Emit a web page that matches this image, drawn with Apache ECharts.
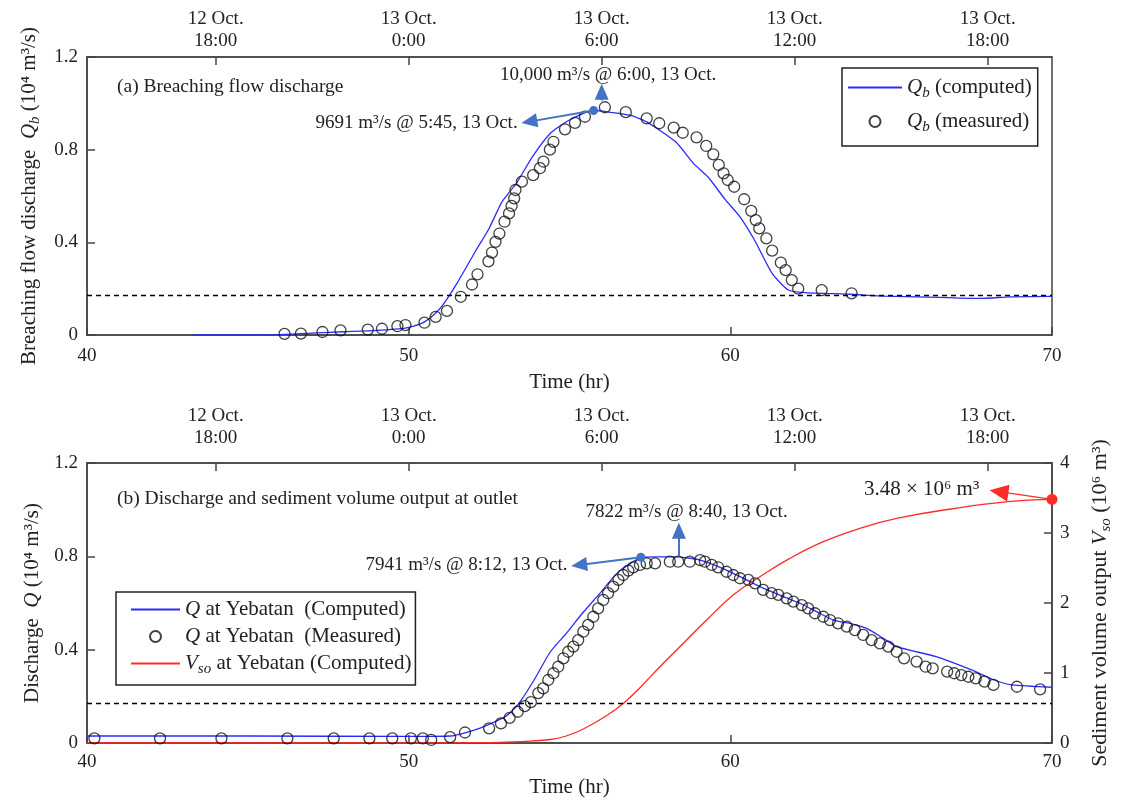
<!DOCTYPE html>
<html>
<head>
<meta charset="utf-8">
<script src="https://cdn.jsdelivr.net/npm/echarts@6/dist/echarts.min.js"></script>
<style>
html,body{margin:0;padding:0;background:#fff;}
#chart{width:1126px;height:805px;}
</style>
</head>
<body>
<div id="chart"></div>
<script>
// ---------- DATA ----------
const topAxisTicks = [44, 50, 56, 62, 68];
const topAxisLabels = ['12 Oct.\n18:00', '13 Oct.\n0:00', '13 Oct.\n6:00', '13 Oct.\n12:00', '13 Oct.\n18:00'];
const dischargeLevel = 0.17;

// (a) breaching flow discharge, 10^4 m3/s
const qbComputed = [[43.3,0],[45,0],[46,0.002],[47,0.008],[48,0.014],[49,0.02],[49.9,0.03],[50.4,0.05],[50.8,0.09],[51.1,0.137],[51.5,0.223],[52.1,0.367],[52.5,0.46],[52.9,0.575],[53.35,0.655],[53.85,0.77],[54.4,0.87],[55.0,0.928],[55.75,0.969],[56.1,0.965],[56.9,0.948],[57.4,0.92],[58.3,0.834],[58.85,0.741],[59.3,0.683],[59.85,0.583],[60.3,0.51],[60.75,0.41],[61.3,0.266],[61.8,0.194],[62.3,0.183],[63.7,0.176],[64.8,0.168],[66.8,0.161],[67.8,0.158],[68.7,0.165],[70,0.167]];
const qbMeasured = [[46.14,0.005],[46.65,0.006],[47.32,0.013],[47.88,0.02],[48.73,0.023],[49.17,0.027],[49.65,0.038],[49.9,0.043],[50.49,0.053],[50.84,0.078],[51.19,0.104],[51.62,0.165],[51.97,0.218],[52.14,0.262],[52.48,0.318],[52.59,0.356],[52.7,0.402],[52.82,0.438],[52.98,0.489],[53.12,0.525],[53.2,0.557],[53.28,0.59],[53.32,0.626],[53.52,0.662],[53.87,0.69],[54.08,0.72],[54.19,0.748],[54.39,0.8],[54.5,0.834],[54.86,0.888],[55.17,0.916],[55.48,0.942],[56.1,0.983],[56.75,0.962],[57.4,0.935],[57.79,0.914],[58.24,0.895],[58.52,0.873],[58.95,0.853],[59.25,0.816],[59.47,0.78],[59.64,0.734],[59.79,0.698],[59.92,0.669],[60.12,0.64],[60.43,0.586],[60.65,0.536],[60.79,0.496],[60.9,0.46],[61.12,0.417],[61.3,0.364],[61.57,0.312],[61.72,0.28],[61.91,0.237],[62.11,0.2],[62.84,0.194],[63.77,0.18]];

// (b) discharge at outlet (10^4 m3/s) and sediment volume (10^6 m3)
const qComputed = [[40,0.03],[45,0.03],[50,0.028],[51.3,0.03],[52.2,0.063],[53.0,0.113],[53.4,0.165],[53.9,0.27],[54.4,0.39],[54.9,0.47],[55.4,0.556],[55.95,0.642],[56.47,0.727],[56.9,0.77],[57.24,0.794],[57.6,0.798],[58.33,0.798],[59.06,0.784],[59.68,0.753],[60.3,0.713],[60.92,0.67],[61.65,0.627],[62.16,0.599],[62.68,0.563],[63.2,0.527],[63.72,0.513],[64.24,0.491],[64.75,0.449],[65.17,0.413],[66.4,0.37],[67.5,0.313],[68.2,0.27],[68.75,0.249],[70,0.239]];
const qMeasured = [[40.23,0.02],[42.27,0.02],[44.18,0.02],[46.23,0.02],[47.67,0.02],[48.78,0.02],[49.49,0.02],[50.07,0.02],[50.44,0.02],[50.7,0.013],[51.29,0.025],[51.75,0.045],[52.5,0.063],[52.87,0.084],[53.14,0.108],[53.39,0.134],[53.61,0.158],[53.8,0.175],[54.03,0.214],[54.18,0.234],[54.34,0.27],[54.5,0.299],[54.65,0.327],[54.81,0.363],[54.96,0.391],[55.12,0.413],[55.27,0.441],[55.43,0.477],[55.58,0.506],[55.74,0.541],[55.89,0.577],[56.05,0.613],[56.2,0.642],[56.36,0.67],[56.52,0.699],[56.67,0.72],[56.83,0.739],[56.98,0.753],[57.19,0.763],[57.4,0.77],[57.66,0.77],[58.12,0.777],[58.38,0.777],[58.74,0.777],[59.06,0.784],[59.21,0.777],[59.42,0.763],[59.62,0.753],[59.88,0.734],[60.09,0.72],[60.3,0.706],[60.56,0.699],[60.77,0.684],[61.02,0.656],[61.28,0.642],[61.49,0.635],[61.75,0.62],[61.96,0.606],[62.22,0.591],[62.42,0.577],[62.63,0.556],[62.89,0.541],[63.1,0.527],[63.35,0.513],[63.62,0.499],[63.87,0.484],[64.13,0.463],[64.39,0.441],[64.65,0.427],[64.91,0.413],[65.17,0.391],[65.4,0.363],[65.79,0.349],[66.07,0.327],[66.29,0.32],[66.74,0.306],[66.96,0.299],[67.18,0.291],[67.4,0.284],[67.63,0.277],[67.9,0.263],[68.18,0.249],[68.91,0.241],[69.63,0.23]];
const vsoComputed = [[40,0],[50,0],[52,0.005],[52.84,0.01],[53.5,0.02],[54.4,0.05],[54.9,0.1],[55.43,0.2],[56.15,0.39],[56.67,0.565],[57.19,0.79],[57.81,1.09],[58.54,1.424],[59.26,1.757],[60.09,2.114],[60.92,2.376],[61.85,2.638],[62.89,2.876],[64.03,3.067],[65.17,3.21],[66.96,3.35],[68.63,3.447],[70,3.48]];

// annotations (data coordinates)
const arrowsTop = [
  {from:[55.75,0.969], to:[53.75,0.921], dot:true},
  {from:[56.0,1.012], to:[56.0,1.05], dot:false}
];
const textsTop = [
  {at:[53.45,0.917], text:'9691 m³/s @ 5:45, 13 Oct.', pos:'left', size:19},
  {at:[56.2,1.122], text:'10,000 m³/s @ 6:00, 13 Oct.', pos:'inside', size:19}
];
const arrowsBottom = [
  {from:[57.22,0.796], to:[55.3,0.763], dot:true},
  {from:[58.4,0.8], to:[58.4,0.91], dot:false}
];
const textsBottom = [
  {at:[55.0,0.763], text:'7941 m³/s @ 8:12, 13 Oct.', pos:'left', size:19},
  {at:[58.64,0.991], text:'7822 m³/s @ 8:40, 13 Oct.', pos:'inside', size:19}
];
const arrowsVolume = [{from:[70,3.48], to:[68.35,3.59], dot:true}];
const textsVolume = [{at:[67.8,3.624], text:'3.48 × 10⁶ m³', pos:'left', size:21}];

// ---------- STYLE ----------
const FONT = 'Liberation Serif';
const TXT = '#222';
const FRAME = '#444';
const BLUE = '#2b2bff';
const RED = '#ff2a2a';
const ARROW = '#4472C4';
function richFor(size){
  return {
    i: {fontStyle:'italic', fontFamily:FONT, fontSize:size, color:TXT},
    s: {fontStyle:'italic', fontFamily:FONT, fontSize:Math.round(size*0.7), color:TXT, padding:[Math.round(size*0.55),0,0,0]}
  };
}
const TICK = 19;
const NAME = 21;
const LEG = 21;

function arrowLines(list, color, width, headSize, dotSize){
  return list.map(a => [
    {coord:a.from, symbol:a.dot ? 'circle' : 'none', symbolSize:a.dot ? dotSize : 0, lineStyle:{color:color, width:width, type:'solid'}},
    {coord:a.to, symbol:'triangle', symbolSize:headSize}
  ]);
}
function textPoints(list){
  return list.map(t => ({
    coord:t.at, symbol:'circle', symbolSize:0.01,
    label:{show:true, position:t.pos, distance:2, formatter:t.text, fontSize:t.size, fontFamily:FONT, color:TXT}
  }));
}

function bottomAxis(grid, labelMargin, nameGap){
  return {
    gridIndex:grid, type:'value', min:40, max:70, interval:10, position:'bottom',
    axisLine:{show:true, onZero:false, lineStyle:{color:FRAME, width:1.5}},
    axisTick:{show:true, inside:true, length:8, lineStyle:{color:FRAME, width:1.5}},
    axisLabel:{margin:labelMargin, fontSize:TICK, fontFamily:FONT, color:TXT},
    splitLine:{show:false},
    name:'Time (hr)', nameLocation:'middle', nameGap:nameGap,
    nameTextStyle:{fontSize:NAME, fontFamily:FONT, color:TXT}
  };
}
function topAxis(grid, labelMargin){
  return {
    gridIndex:grid, type:'value', min:40, max:70, position:'top',
    axisLine:{show:true, onZero:false, lineStyle:{color:FRAME, width:1.5}},
    axisTick:{show:true, inside:true, length:8, customValues:topAxisTicks, lineStyle:{color:FRAME, width:1.5}},
    axisLabel:{margin:labelMargin, fontSize:TICK, lineHeight:22, fontFamily:FONT, color:TXT, customValues:topAxisTicks,
      formatter:v => { const k = topAxisTicks.indexOf(v); return k >= 0 ? topAxisLabels[k] : ''; }},
    splitLine:{show:false}
  };
}
function leftAxis(grid, max, interval, name, nameGap){
  return {
    gridIndex:grid, type:'value', min:0, max:max, interval:interval,
    axisLine:{show:true, lineStyle:{color:FRAME, width:1.5}},
    axisTick:{show:true, inside:true, length:8, lineStyle:{color:FRAME, width:1.5}},
    axisLabel:{margin:9, fontSize:TICK, fontFamily:FONT, color:TXT},
    splitLine:{show:false},
    name:name, nameLocation:'middle', nameGap:nameGap, nameRotate:90,
    nameTextStyle:{fontSize:NAME, fontFamily:FONT, color:TXT, rich:richFor(NAME)}
  };
}

const option = {
  animation:false,
  backgroundColor:'#fff',
  textStyle:{fontFamily:FONT, color:TXT},
  title:[
    {text:'(a) Breaching flow discharge', left:117, top:77, padding:0, textStyle:{fontSize:19.5, fontWeight:'normal', fontFamily:FONT, color:TXT}},
    {text:'(b) Discharge and sediment volume output at outlet', left:117, top:489, padding:0, textStyle:{fontSize:19.5, fontWeight:'normal', fontFamily:FONT, color:TXT}}
  ],
  grid:[
    {left:87, top:57, width:965, height:278, show:true, borderColor:FRAME, borderWidth:1.5, backgroundColor:'transparent'},
    {left:87, top:463, width:965, height:280, show:true, borderColor:FRAME, borderWidth:1.5, backgroundColor:'transparent'}
  ],
  legend:[
    {
      left:842, top:68, orient:'vertical', itemWidth:54, itemHeight:11, itemGap:10,
      padding:[9,6,11,5], borderColor:'#222', borderWidth:1.5, backgroundColor:'#fff',
      data:[{name:'Qb computed', itemStyle:{opacity:0}}, {name:'Qb measured', icon:'circle'}],
      formatter:n => n === 'Qb computed' ? '{i|Q}{s|b} (computed)' : '{i|Q}{s|b} (measured)',
      textStyle:{fontSize:LEG, fontFamily:FONT, color:TXT, rich:richFor(LEG)}
    },
    {
      left:116, top:592, orient:'vertical', itemWidth:49, itemHeight:11, itemGap:6,
      padding:[7,4,8,14], borderColor:'#222', borderWidth:1.5, backgroundColor:'#fff',
      data:[{name:'Q computed', itemStyle:{opacity:0}}, {name:'Q measured', icon:'circle'}, {name:'Vso computed', itemStyle:{opacity:0}}],
      formatter:n => n === 'Q computed' ? '{i|Q} at Yebatan  (Computed)' : (n === 'Q measured' ? '{i|Q} at Yebatan  (Measured)' : '{i|V}{s|so} at Yebatan (Computed)'),
      textStyle:{fontSize:LEG, fontFamily:FONT, color:TXT, rich:richFor(LEG)}
    }
  ],
  xAxis:[ bottomAxis(0, 12, 37), topAxis(0, 5), bottomAxis(1, 10, 34), topAxis(1, 14) ],
  yAxis:[
    leftAxis(0, 1.2, 0.4, 'Breaching flow discharge  {i|Q}{s|b} (10⁴ m³/s)', 44),
    leftAxis(1, 1.2, 0.4, 'Discharge  {i|Q} (10⁴ m³/s)', 37),
    {
      gridIndex:1, type:'value', min:0, max:4, interval:1, position:'right',
      axisLine:{show:true, lineStyle:{color:FRAME, width:1.5}},
      axisTick:{show:true, inside:true, length:8, lineStyle:{color:FRAME, width:1.5}},
      axisLabel:{margin:8, fontSize:TICK, fontFamily:FONT, color:TXT},
      splitLine:{show:false},
      name:'Sediment volume output {i|V}{s|so} (10⁶ m³)', nameLocation:'middle', nameGap:35, nameRotate:90,
      nameTextStyle:{fontSize:22, fontFamily:FONT, color:TXT, rich:richFor(22)}
    }
  ],
  series:[
    {
      name:'Qb computed', type:'line', xAxisIndex:0, yAxisIndex:0, data:qbComputed,
      symbol:'none', smooth:0.2, lineStyle:{color:BLUE, width:1.3}, itemStyle:{color:BLUE}, z:3,
      markLine:{
        silent:true, symbol:['none','none'], label:{show:false}, animation:false,
        data:[
          [{coord:[40,dischargeLevel], lineStyle:{color:'#000', type:[5,4], width:1.3}}, {coord:[70,dischargeLevel]}],
          ...arrowLines(arrowsTop, ARROW, 2, [14,16], 9)
        ]
      },
      markPoint:{silent:true, data:textPoints(textsTop), itemStyle:{color:'transparent'}}
    },
    {
      name:'Qb measured', type:'scatter', xAxisIndex:0, yAxisIndex:0, data:qbMeasured,
      symbol:'circle', symbolSize:11,
      itemStyle:{color:'rgba(0,0,0,0)', borderColor:'#111', borderWidth:1.3}, z:4
    },
    {
      name:'Q computed', type:'line', xAxisIndex:2, yAxisIndex:1, data:qComputed,
      symbol:'none', smooth:0.2, lineStyle:{color:BLUE, width:1.3}, itemStyle:{color:BLUE}, z:3,
      markLine:{
        silent:true, symbol:['none','none'], label:{show:false}, animation:false,
        data:[
          [{coord:[40,dischargeLevel], lineStyle:{color:'#000', type:[5,4], width:1.3}}, {coord:[70,dischargeLevel]}],
          ...arrowLines(arrowsBottom, ARROW, 2, [14,16], 9)
        ]
      },
      markPoint:{silent:true, data:textPoints(textsBottom), itemStyle:{color:'transparent'}}
    },
    {
      name:'Q measured', type:'scatter', xAxisIndex:2, yAxisIndex:1, data:qMeasured,
      symbol:'circle', symbolSize:11,
      itemStyle:{color:'rgba(0,0,0,0)', borderColor:'#111', borderWidth:1.3}, z:4
    },
    {
      name:'Vso computed', type:'line', xAxisIndex:2, yAxisIndex:2, data:vsoComputed,
      symbol:'none', smooth:0.45, lineStyle:{color:RED, width:1.3}, itemStyle:{color:RED}, z:3,
      markLine:{
        silent:true, symbol:['none','none'], label:{show:false}, animation:false,
        data:arrowLines(arrowsVolume, RED, 1.3, [17,19], 11)
      },
      markPoint:{silent:true, data:textPoints(textsVolume), itemStyle:{color:'transparent'}}
    }
  ]
};

const chart = echarts.init(document.getElementById('chart'), null, {renderer:'canvas'});
chart.setOption(option);
</script>
</body>
</html>
